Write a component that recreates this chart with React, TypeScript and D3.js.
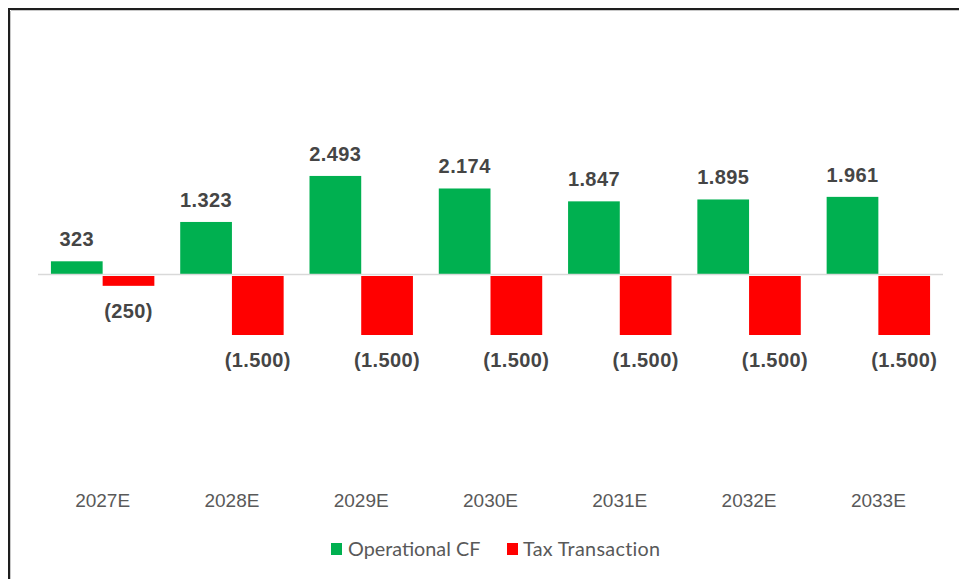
import React from "react";
import * as d3 from "d3";

const categories = ["2027E", "2028E", "2029E", "2030E", "2031E", "2032E", "2033E"];
const operationalCF = [323, 1323, 2493, 2174, 1847, 1895, 1961];
const taxTransaction = [-250, -1500, -1500, -1500, -1500, -1500, -1500];
const seriesNames = ["Operational CF", "Tax Transaction"];
const seriesColors = ["#00B050", "#FF0000"];

const W = 959;
const H = 579;

const fmt = (v: number) => {
  const s = d3.format(",")(Math.abs(v)).replace(/,/g, ".");
  return v < 0 ? `(${s})` : s;
};

export default function App() {
  const x = d3.scaleBand<string>().domain(categories).range([38, 943]).paddingInner(0.2).paddingOuter(0.1);
  const inner = d3.scaleBand<string>().domain(seriesNames).range([0, x.bandwidth()]).padding(0);
  const y = d3.scaleLinear().domain([-3000, 3000]).range([392, 156]);
  const series = [operationalCF, taxTransaction];

  return (
    <svg width={W} height={H} style={{ position: "fixed", left: 0, top: 0, background: "#fff" }}>
      <rect x={0} y={0} width={W} height={H} fill="#fff" />
      {/* border */}
      <line x1={9} y1={9} x2={W + 5} y2={9} stroke="#1e1e1e" strokeWidth={2} />
      <line x1={9} y1={8} x2={9} y2={H + 5} stroke="#1e1e1e" strokeWidth={2} />
      <line x1={11} y1={10.5} x2={W + 5} y2={10.5} stroke="#c8c8c8" strokeWidth={1} />
      <line x1={10.5} y1={11} x2={10.5} y2={H + 5} stroke="#c8c8c8" strokeWidth={1} />

      {series.map((vals, si) =>
        vals.map((v, i) => {
          const bx = (x(categories[i]) ?? 0) + (inner(seriesNames[si]) ?? 0);
          const y0 = y(0);
          const yv = y(v);
          const top = v >= 0 ? yv : y0 + 2;
          const h = v >= 0 ? y0 - yv : yv - y0;
          return (
            <rect key={`${si}-${i}`} x={bx} y={top} width={inner.bandwidth()} height={h} fill={seriesColors[si]} />
          );
        })
      )}

      <line x1={38} x2={943} y1={y(0) + 0.5} y2={y(0) + 0.5} stroke="#d9d9d9" strokeWidth={1.5} />

      {series.map((vals, si) =>
        vals.map((v, i) => {
          const cx = (x(categories[i]) ?? 0) + (inner(seriesNames[si]) ?? 0) + inner.bandwidth() / 2;
          const ty = v >= 0 ? y(v) - 15 : y(v) + 2 + 32;
          return (
            <text
              key={`l${si}-${i}`}
              x={cx}
              y={ty}
              textAnchor="middle"
              fontFamily="'Liberation Sans', Arial, sans-serif"
              fontWeight="bold"
              fontSize={20}
              letterSpacing={0.4}
              fill="#454545"
            >
              {fmt(v)}
            </text>
          );
        })
      )}

      {categories.map((c) => (
        <text
          key={c}
          x={(x(c) ?? 0) + x.bandwidth() / 2}
          y={507}
          textAnchor="middle"
          fontFamily="'Liberation Sans', Arial, sans-serif"
          fontSize={19}
          fill="#595959"
        >
          {c}
        </text>
      ))}

      {/* legend */}
      <rect x={331} y={543} width={11} height={12} fill={seriesColors[0]} />
      <text x={348} y={556} fontFamily="Lato, sans-serif" fontSize={19.8} fill="#595959">
        {seriesNames[0]}
      </text>
      <rect x={507} y={543} width={11} height={12} fill={seriesColors[1]} />
      <text x={523} y={556} fontFamily="Lato, sans-serif" fontSize={19.8} fill="#595959" letterSpacing={0.3}>
        {seriesNames[1]}
      </text>
    </svg>
  );
}
